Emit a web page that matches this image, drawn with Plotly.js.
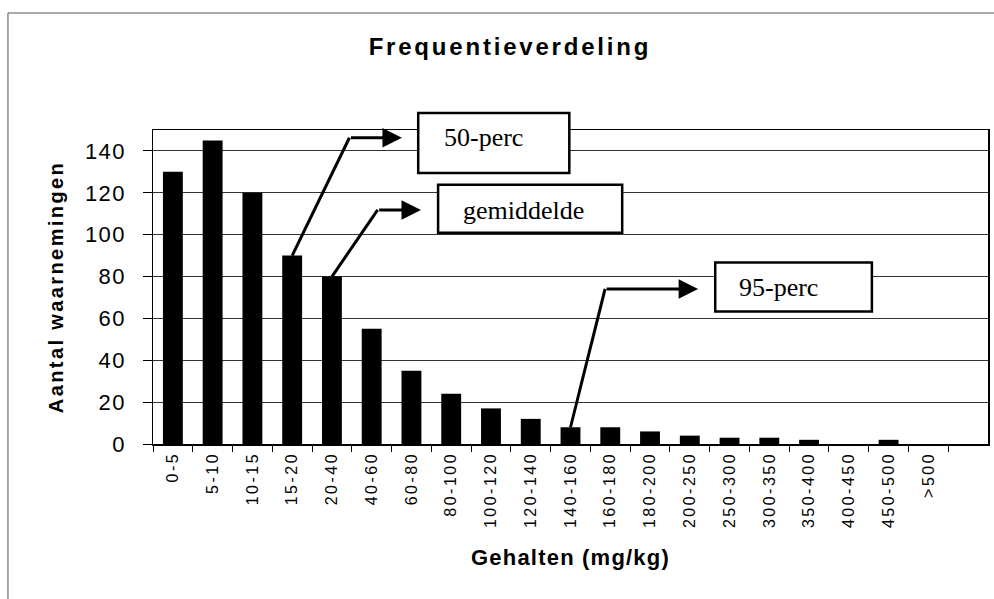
<!DOCTYPE html>
<html>
<head>
<meta charset="utf-8">
<script src="https://cdn.plot.ly/plotly-3.0.1.min.js"></script>
<style>
  html, body { margin: 0; padding: 0; background: #ffffff; }
  #chart { width: 994px; height: 599px; }
  .xtick text { letter-spacing: 2.5px; }
  .ytick text { letter-spacing: 1.5px; }
  .gtitle { letter-spacing: 2.8px; }
  .ytitle { letter-spacing: 2.4px; }
  .xtitle { letter-spacing: 1.2px; }
</style>
</head>
<body>
<div id="chart"></div>
<script>
// ---- data ----
const categories = ['0-5','5-10','10-15','15-20','20-40','40-60','60-80','80-100','100-120','120-140',
                    '140-160','160-180','180-200','200-250','250-300','300-350','350-400','400-450','450-500','>500'];
const counts = [130,145,120,90,80,55,35,24,17,12,8,8,6,4,3,3,2,0,2,0];
const calloutLabels = ['50-perc','gemiddelde','95-perc'];
const calloutCategories = ['15-20','20-40','140-160'];
const yTickValues = [0,20,40,60,80,100,120,140];

// ---- axis extents (layout) ----
const xRange = [-0.5, 20.5];
const yRange = [0, 150];
const px = v => (v - xRange[0]) / (xRange[1] - xRange[0]);   // axis units -> paper
const py = v => (v - yRange[0]) / (yRange[1] - yRange[0]);

// ---- callout geometry (layout only, in axis units) ----
const calloutGeom = [
  {elbow:[4.44,146.3], tip:[5.76,146.3], box:[6.17,9.97,129.5,158.1], text:[7.80,146.4]},
  {elbow:[5.15,111.8], tip:[6.24,111.8], box:[6.67,11.30,100.95,123.8], text:[8.81,111.6]},
  {elbow:[10.87,74.1], tip:[13.21,74.1], box:[13.64,17.58,63.33,86.67], text:[15.23,74.6]}
];

const shapes = [];
const annotations = [];

// outer chart border (left and top edge, like the source image)
shapes.push({
  type:'path', xref:'paper', yref:'paper',
  path:'M -0.1737,-0.6 L -0.1737,1.3726 L 1.2,1.3726',
  line:{color:'#555555', width:1}
});

calloutLabels.forEach((label, k) => {
  const ci = categories.indexOf(calloutCategories[k]);
  const g = calloutGeom[k];
  // diagonal leader from bar top to elbow
  shapes.push({type:'line', xref:'x', yref:'y', layer:'above',
    x0:ci, y0:counts[ci], x1:g.elbow[0], y1:g.elbow[1],
    line:{color:'#000000', width:3}});
  // label box (paper refs so it is not clipped by the plot area)
  shapes.push({type:'rect', xref:'paper', yref:'paper', layer:'above',
    x0:px(g.box[0]), x1:px(g.box[1]), y0:py(g.box[2]), y1:py(g.box[3]),
    fillcolor:'#ffffff', line:{color:'#000000', width:2.5}});
  // horizontal arrow with head
  annotations.push({xref:'x', yref:'y', axref:'x', ayref:'y',
    x:g.tip[0], y:g.tip[1], ax:g.elbow[0], ay:g.elbow[1],
    text:'', showarrow:true, arrowhead:2, arrowsize:1.3, arrowwidth:3,
    arrowcolor:'#000000', standoff:0, startstandoff:0});
  // label text
  annotations.push({xref:'x', yref:'y', x:g.text[0], y:g.text[1],
    xanchor:'center', yanchor:'middle', text:label, showarrow:false,
    font:{family:'Liberation Serif, Times New Roman, serif', size:26, color:'#000000'}});
});

const trace = {
  type:'bar',
  x:categories,
  y:counts,
  marker:{color:'#000000', line:{width:0}},
  hoverinfo:'skip'
};

const layout = {
  width:994, height:599,
  margin:{l:153, r:6, t:130, b:155},
  paper_bgcolor:'#ffffff', plot_bgcolor:'#ffffff',
  bargap:0.5,
  showlegend:false,
  font:{family:'Liberation Sans, Arial, sans-serif', color:'#000000'},
  title:{
    text:'Frequentieverdeling',
    xref:'container', yref:'container',
    x:0.513, xanchor:'center', y:0.9215, yanchor:'middle',
    font:{family:'Liberation Sans, Arial, sans-serif', size:24, weight:'bold', color:'#000000'}
  },
  xaxis:{
    type:'category',
    categoryorder:'array', categoryarray:categories,
    range:xRange,
    tickangle:-90,
    ticks:'outside', tickson:'boundaries', ticklen:6, tickwidth:1, tickcolor:'#000000',
    tickfont:{family:'Liberation Sans, Arial, sans-serif', size:16, color:'#000000'},
    showgrid:false, zeroline:false,
    showline:true, mirror:true, linecolor:'#000000', linewidth:1.5,
    title:{text:'Gehalten (mg/kg)', standoff:22,
      font:{family:'Liberation Sans, Arial, sans-serif', size:22, weight:'bold', color:'#000000'}},
    fixedrange:true
  },
  yaxis:{
    range:yRange,
    tickmode:'array', tickvals:yTickValues,
    ticks:'outside', ticklen:9, tickwidth:1, tickcolor:'#000000',
    ticklabelstandoff:12,
    tickfont:{family:'Liberation Sans, Arial, sans-serif', size:22, color:'#000000'},
    showgrid:true, gridcolor:'#333333', gridwidth:1,
    zeroline:false,
    showline:true, mirror:true, linecolor:'#000000', linewidth:1.5,
    title:{text:'Aantal waarnemingen', standoff:16,
      font:{family:'Liberation Sans, Arial, sans-serif', size:20, weight:'bold', color:'#000000'}},
    fixedrange:true
  },
  shapes:shapes,
  annotations:annotations
};

Plotly.newPlot('chart', [trace], layout, {staticPlot:true, displayModeBar:false});
</script>
</body>
</html>
